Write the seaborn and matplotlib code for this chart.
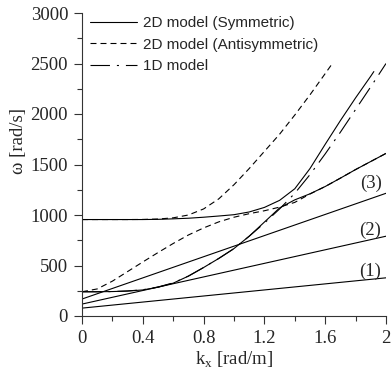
import matplotlib
matplotlib.use("Agg")
import matplotlib.pyplot as plt
import seaborn as sns
from matplotlib.ticker import MultipleLocator

# wavenumber grid
k = [0.0, 0.1, 0.2, 0.3, 0.4, 0.5, 0.6, 0.7, 0.8, 0.9, 1.0,
     1.1, 1.2, 1.3, 1.4, 1.5, 1.6, 1.7, 1.8, 1.9, 2.0]

# 2D model, symmetric branches
sym_low = [240, 240, 242, 247, 258, 285, 325, 395, 480, 570, 668,
           790, 930, 1070, 1150, 1210, 1282, 1365, 1450, 1530, 1610]
k_sym_up = [0.0, 0.1, 0.2, 0.3, 0.4, 0.5, 0.6, 0.7, 0.8, 0.9, 1.0,
            1.1, 1.2, 1.3, 1.4, 1.5, 1.6, 1.7, 1.8, 1.9, 1.92]
sym_up = [955, 955, 955, 955, 955, 957, 962, 968, 978, 990, 1003,
          1030, 1075, 1145, 1260, 1460, 1700, 1935, 2160, 2375, 2420]
# straight branches (1), (2), (3)
k_lines = [0.0, 2.0]
line1 = [78, 378]
line2 = [118, 790]
line3 = [168, 1215]

# 2D model, antisymmetric branches
anti_low = [240, 268, 345, 440, 535, 628, 718, 802, 872, 932, 978,
            1013, 1042, 1078, 1125, 1208, 1282, 1365, 1450, 1530, 1610]
k_anti_up = [0.0, 0.1, 0.2, 0.3, 0.4, 0.5, 0.6, 0.7, 0.8, 0.9, 1.0,
             1.1, 1.2, 1.3, 1.4, 1.5, 1.6, 1.64]
anti_up = [955, 955, 955, 955, 956, 960, 972, 1000, 1060, 1160, 1300,
           1460, 1630, 1800, 1990, 2190, 2400, 2485]

# 1D model
model_1d = [240, 240, 242, 248, 260, 287, 328, 395, 480, 570, 667,
            790, 920, 1060, 1215, 1400, 1605, 1820, 2045, 2270, 2500]

branch_labels = ["(1)", "(2)", "(3)"]
branch_pos = [(1.895, 439), (1.895, 851), (1.905, 1314)]

x_ticks = [0, 0.4, 0.8, 1.2, 1.6, 2]
x_ticklabels = ["0", "0.4", "0.8", "1.2", "1.6", "2"]

sns.set_style("ticks")
plt.rcParams["font.family"] = ["Liberation Serif", "DejaVu Serif"]
plt.rcParams["mathtext.fontset"] = "custom"
plt.rcParams["mathtext.rm"] = "Liberation Serif"
plt.rcParams["lines.scale_dashes"] = False

fig = plt.figure(figsize=(3.91, 3.84), dpi=100)
ax = fig.add_axes([82 / 391, 1 - 316 / 384, 304 / 391, 303 / 384])

lw = 0.8
solid = dict(color="black", lw=lw, ax=ax)
dash = (0, (4.3, 2.9))
dashdot = (0, (14, 5, 1.5, 5))

sns.lineplot(x=k, y=model_1d, linestyle=dashdot, label="1D model", **solid)
sns.lineplot(x=k, y=anti_low, linestyle=dash, label="2D model (Antisymmetric)", **solid)
sns.lineplot(x=k_anti_up, y=anti_up, linestyle=dash, **solid)
sns.lineplot(x=k, y=sym_low, label="2D model (Symmetric)", **solid)
sns.lineplot(x=k_sym_up, y=sym_up, **solid)
for ys in (line1, line2, line3):
    sns.lineplot(x=k_lines, y=ys, **solid)

for lab, (xx, yy) in zip(branch_labels, branch_pos):
    ax.text(xx, yy, lab, ha="center", va="center", fontsize=13.5)

ax.set_xlim(0, 2)
ax.set_ylim(0, 3000)
ax.set_xticks(x_ticks)
ax.set_xticklabels(x_ticklabels)
ax.xaxis.set_minor_locator(MultipleLocator(0.2))
ax.yaxis.set_major_locator(MultipleLocator(500))
ax.yaxis.set_minor_locator(MultipleLocator(250))
ax.tick_params(which="major", length=6, width=0.8, labelsize=13.5, pad=4, color="#333333")
ax.tick_params(which="minor", length=3.5, width=0.8, color="#333333")
sns.despine(ax=ax)
for s in ("left", "bottom"):
    ax.spines[s].set_linewidth(0.8)
    ax.spines[s].set_color("#333333")

ax.set_xlabel(r"k$_\mathrm{x}$ [rad/m]", fontsize=13.5)
ax.set_ylabel("ω [rad/s]", fontsize=13.5)
ax.yaxis.set_label_coords(-0.18, 0.578)
ax.xaxis.set_label_coords(0.5, -0.11)

h, l = ax.get_legend_handles_labels()
order = [2, 1, 0]
ax.legend([h[i] for i in order], [l[i] for i in order], loc="upper left",
          bbox_to_anchor=(6 / 304, 0.995), frameon=False, borderaxespad=0,
          borderpad=0.1, handlelength=3.1, handletextpad=0.4, labelspacing=0.5,
          prop={"family": "Liberation Sans", "size": 11})

fig.savefig("out.png", dpi=100)
